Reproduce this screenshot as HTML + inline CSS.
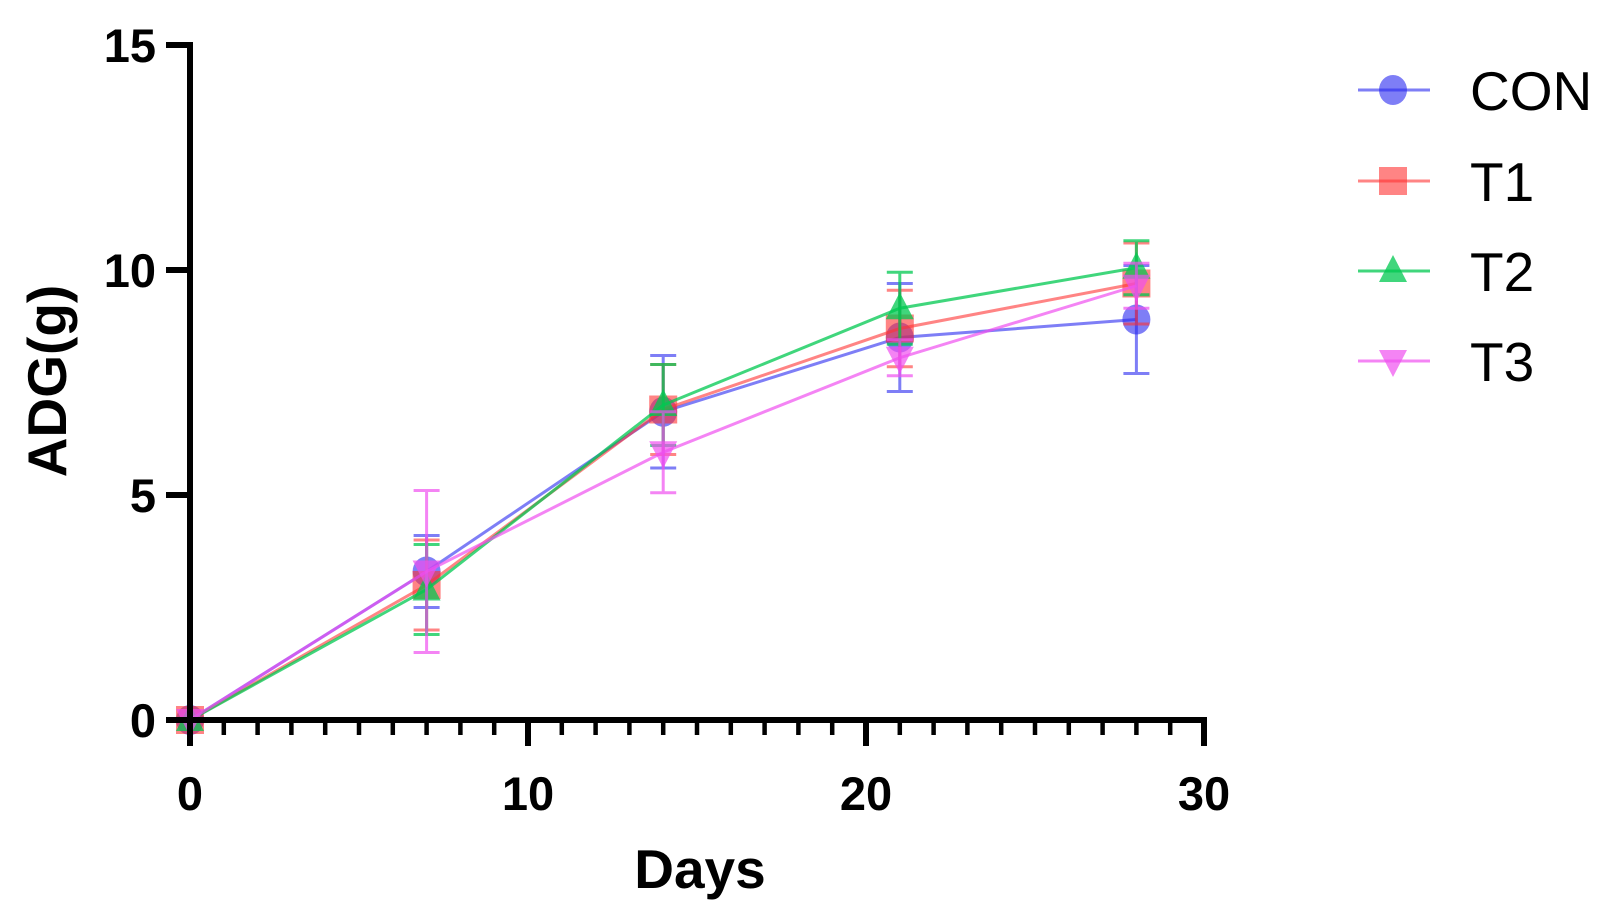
<!DOCTYPE html>
<html><head><meta charset="utf-8"><style>body{margin:0;background:#fff}svg{display:block}text{font-family:"Liberation Sans",Arial,sans-serif}</style></head>
<body>
<svg id="c" width="1611" height="923"></svg>
<script>
const days=[0,7,14,21,28];
const seriesNames=["CON","T1","T2","T3"];
const conVals=[0,3.3,6.85,8.5,8.9];
const conErr=[0,0.8,1.25,1.2,1.2];
const t1Vals=[0,3.0,6.9,8.7,9.7];
const t1Err=[0,1.0,1.0,0.85,0.9];
const t2Vals=[0,2.9,7.0,9.15,10.05];
const t2Err=[0,1.0,0.9,0.8,0.6];
const t3Vals=[0,3.3,5.95,8.05,9.65];
const t3Err=[0,1.8,0.9,0.4,0.5];
const xTicks=[0,10,20,30];
const yTicks=[0,5,10,15];

const svg=document.getElementById('c');
const NS='http://www.w3.org/2000/svg';
const X0=190,X1=1204,Y0=720,Y1=45;
const X=v=>X0+v*(X1-X0)/30;
const Y=v=>Y0-v*(Y0-Y1)/15;
function mk(tag,attrs,parent){const e=document.createElementNS(NS,tag);for(const k in attrs)e.setAttribute(k,attrs[k]);(parent||svg).appendChild(e);return e;}
const colors=["rgba(40,40,240,0.6)","rgba(255,50,50,0.6)","rgba(0,200,80,0.75)","rgba(240,80,240,0.7)"];
const vals=[conVals,t1Vals,t2Vals,t3Vals];
const errs=[conErr,t1Err,t2Err,t3Err];

function marker(i,cx,cy,g){
  const c=colors[i];let m;
  if(i===0)m=mk('ellipse',{cx,cy,rx:14,ry:15,fill:c},g);
  else if(i===1)m=mk('rect',{x:cx-14,y:cy-14,width:28,height:28,fill:c},g);
  else if(i===2)m=mk('polygon',{points:`${cx},${cy-16} ${cx-14},${cy+11} ${cx+14},${cy+11}`,fill:c},g);
  else m=mk('polygon',{points:`${cx},${cy+16} ${cx-14},${cy-11} ${cx+14},${cy-11}`,fill:c},g);
  return m;
}

for(let i=0;i<4;i++){
  const g=mk('g',{});
  
  
  const pts=days.map((d,j)=>X(d)+','+Y(vals[i][j])).join(' ');
  const l=mk('polyline',{points:pts,fill:'none',stroke:colors[i],'stroke-width':3},g);
  
  
  days.forEach((d,j)=>{
    const x=X(d),hi=Y(vals[i][j]+errs[i][j]),lo=Y(vals[i][j]-errs[i][j]);
    if(errs[i][j]>0){
      const e=mk('path',{d:`M${x},${hi}V${lo}M${x-13},${hi}H${x+13}M${x-13},${lo}H${x+13}`,stroke:colors[i],'stroke-width':3,fill:'none'},g);
      
      
    }
    const m=marker(i,x,Y(vals[i][j]),g);
    
    
  });
}

const ax=mk('g',{});


mk('line',{x1:X0,y1:Y1-3,x2:X0,y2:Y0+3,stroke:'#000','stroke-width':6},ax);
mk('line',{x1:X0-3,y1:Y0,x2:X1+3,y2:Y0,stroke:'#000','stroke-width':6},ax);
for(let d=0;d<=30;d++){
  const major=d%10===0;
  mk('line',{x1:X(d),y1:Y0,x2:X(d),y2:major?Y0+26:Y0+15,stroke:'#000','stroke-width':major?6:4.5},ax);
}
xTicks.forEach(t=>{
  const e=mk('text',{x:X(t),y:810,'text-anchor':'middle','font-size':47,'font-weight':'bold'},ax);
  e.textContent=t;
  
  
});
yTicks.forEach(t=>{
  mk('line',{x1:X0-24,y1:Y(t),x2:X0,y2:Y(t),stroke:'#000','stroke-width':6},ax);
  const e=mk('text',{x:156,y:Y(t)+17,'text-anchor':'end','font-size':47,'font-weight':'bold'},ax);
  e.textContent=t;
  
  
});
const xt=mk('text',{x:700,y:888,'text-anchor':'middle','font-size':55,'font-weight':'bold'});
xt.textContent='Days';


const yt=mk('text',{x:0,y:0,'text-anchor':'middle','font-size':55,'font-weight':'bold',transform:'translate(66,381) rotate(-90)'});
yt.textContent='ADG(g)';



const lg=mk('g',{});


const ly=[90,181,271,361];
seriesNames.forEach((n,i)=>{
  const g=mk('g',{},lg);
  
  
  mk('line',{x1:1358,y1:ly[i],x2:1430,y2:ly[i],stroke:colors[i],'stroke-width':3},g);
  marker(i,1393,ly[i],g);
  const t=mk('text',{x:1470,y:ly[i]+20,'font-size':55},g);
  t.textContent=n;
});
</script>
</body></html>
